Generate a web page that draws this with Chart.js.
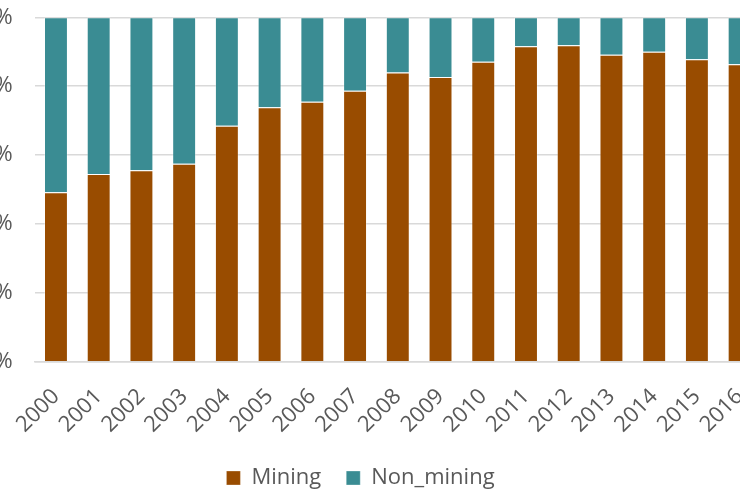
<!DOCTYPE html>
<html>
<head>
<meta charset="utf-8">
<script src="https://cdn.jsdelivr.net/npm/chart.js@4/dist/chart.umd.min.js"></script>
<style>
  html, body { margin: 0; padding: 0; background: #fff; overflow: hidden; }
  #wrap { position: absolute; left: -40px; top: 0; width: 808px; height: 490px; }
</style>
</head>
<body>
<div id="wrap"><canvas id="chart"></canvas></div>
<script>
const years = ['2000', '2001', '2002', '2003', '2004', '2005', '2006', '2007', '2008',
               '2009', '2010', '2011', '2012', '2013', '2014', '2015', '2016'];
const mining = [49.2, 54.5, 55.6, 57.5, 68.5, 73.9, 75.5, 78.7, 84.0,
                82.7, 87.1, 91.6, 91.9, 89.1, 90.0, 87.8, 86.4];
const nonMining = [50.8, 45.5, 44.4, 42.5, 31.5, 26.1, 24.5, 21.3, 16.0,
                   17.3, 12.9, 8.4, 8.1, 10.9, 10.0, 12.2, 13.6];
const yTicks = [0, 20, 40, 60, 80, 100];

const fontFamily = '"Open Sans", "Noto Sans", sans-serif';
const textColor = '#595959';
const gridColor = '#d9d9d9';

new Chart(document.getElementById('chart'), {
    type: 'bar',
    data: {
        labels: years,
        datasets: [
            {
                label: 'Mining',
                data: mining,
                backgroundColor: '#994c00',
                borderColor: 'rgba(255,255,255,0.3)',
                borderWidth: 1,
                categoryPercentage: 0.8,
                barPercentage: 0.7
            },
            {
                label: 'Non_mining',
                data: nonMining,
                backgroundColor: '#3a8c93',
                borderColor: 'rgba(255,255,255,0.3)',
                borderWidth: 1,
                categoryPercentage: 0.8,
                barPercentage: 0.7
            }
        ]
    },
    options: {
        responsive: true,
        maintainAspectRatio: false,
        animation: false,
        layout: { padding: { top: 17.3, right: 7, left: 0, bottom: -9 } },
        scales: {
            x: {
                stacked: true,
                grid: { display: false },
                border: { color: gridColor, width: 1.5 },
                ticks: {
                    color: textColor,
                    font: { family: fontFamily, size: 22 },
                    minRotation: 45,
                    maxRotation: 45,
                    padding: 14
                },
                afterFit: (scale) => {
                    scale.height = 80.3;
                    scale.paddingLeft = 0;
                    scale.paddingRight = 0;
                }
            },
            y: {
                stacked: true,
                min: 0,
                max: 100,
                afterBuildTicks: (scale) => { scale.ticks = yTicks.map(v => ({ value: v })); },
                grid: { color: gridColor, lineWidth: 1.5, drawTicks: false },
                border: { display: false },
                ticks: {
                    color: textColor,
                    font: { family: fontFamily, size: 22 },
                    padding: 22,
                    callback: (v) => v + '%'
                },
                afterFit: (scale) => {
                    scale.width = 74.6;
                    scale.paddingTop = 0;
                    scale.paddingBottom = 0;
                }
            }
        },
        plugins: {
            legend: {
                position: 'bottom',
                labels: {
                    color: textColor,
                    font: { family: fontFamily, size: 22 },
                    boxWidth: 14,
                    boxHeight: 14,
                    padding: 25
                }
            },
            tooltip: { enabled: false }
        }
    }
});
</script>
</body>
</html>
